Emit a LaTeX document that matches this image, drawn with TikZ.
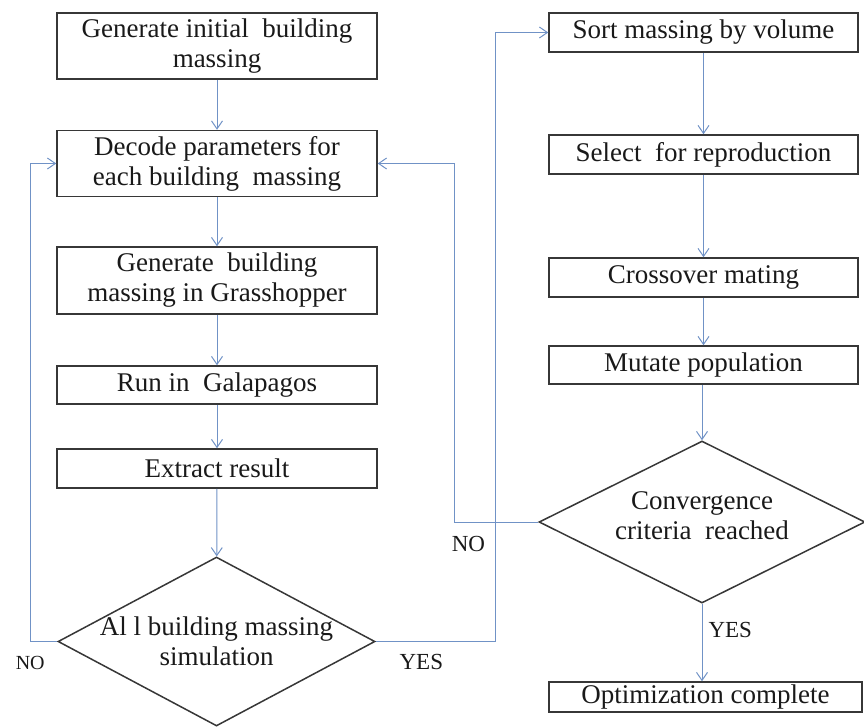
\documentclass[tikz,border=0pt]{standalone}
\usepackage{fontspec}
\setmainfont{Liberation Serif}
\usetikzlibrary{shapes.geometric,arrows.meta,positioning}
\definecolor{linkblue}{RGB}{112,146,198}
\definecolor{boxgray}{RGB}{55,55,55}
\begin{document}
\begin{tikzpicture}[
   x=1pt,y=-1pt,
   font=\fontsize{27}{30}\selectfont,
   proc/.style={draw=boxgray,line width=1.5pt,inner sep=0pt,align=center,text=black!90},
   test/.style={draw=boxgray,line width=1.5pt,diamond,inner sep=0pt},
   flow/.style={-{Straight Barb[length=8pt,width=11pt]},linkblue,line width=1pt},
   lab/.style={font=\fontsize{23}{26}\selectfont,inner sep=2pt,text=black!90}]
\useasboundingbox (0,0) rectangle (864,726);
\node[proc,minimum width=320pt,minimum height=66pt] (GI) at (217,46) {Generate initial\ \ building\\massing};
\node[proc,minimum width=320pt,minimum height=66pt] (DP) at (217,163.5) {Decode parameters for\\each building\ \ massing};
\node[proc,minimum width=320pt,minimum height=67pt] (GM) at (217,280.5) {Generate\ \ building\\massing in Grasshopper};
\node[proc,minimum width=320pt,minimum height=38pt] (RG) at (217,385) {Run in\ \ Galapagos};
\node[proc,minimum width=320pt,minimum height=39pt] (ER) at (217,468.5) {Extract result};
\node[test,minimum width=317pt,minimum height=169pt,
   label={[align=center,text=black!90]center:Al l building massing\\simulation}] (AB) at (216.5,641.5) {};
\node[proc,minimum width=309pt,minimum height=39pt] (SV) at (703.5,32.5) {Sort massing by volume};
\node[proc,minimum width=309pt,minimum height=39pt] (SR) at (703.5,154.5) {Select\ \ for reproduction};
\node[proc,minimum width=309pt,minimum height=39pt] (CM) at (703.5,277.5) {Crossover mating};
\node[proc,minimum width=309pt,minimum height=38pt] (MP) at (703.5,365) {Mutate population};
\node[test,minimum width=326pt,minimum height=162pt,
   label={[align=center,text=black!90,yshift=6pt]center:Convergence\\criteria\ \ reached}] (CC) at (702,522) {};
\node[proc,minimum width=313pt,minimum height=30pt] (OC) at (705.5,697) {Optimization complete};
\draw[flow] (GI) -- (DP);
\draw[flow] (DP) -- (GM);
\draw[flow] (GM) -- (RG);
\draw[flow] (RG) -- (ER);
\draw[flow] (ER) -- (AB);
\draw[flow] (AB.west) -- ++(-27,0) node[lab,below=12pt,font=\fontsize{20}{22}\selectfont] {NO} |- (DP.west);
\draw[flow] (AB.east) -- node[lab,pos=.38,below=10pt] {YES} ++(120,0) |- (SV.west);
\draw[flow] (SV) -- (SR);
\draw[flow] (SR) -- (CM);
\draw[flow] (CM) -- (MP);
\draw[flow] (MP.south -| CC.north) -- (CC.north);
\draw[flow] (CC.west) -- ++(-84,0) node[lab,below right=12pt and -5pt] {NO} |- (DP.east);
\draw[flow] (CC.south) -- node[lab,pos=.34,right=4pt] {YES} (CC.south |- OC.north);
\end{tikzpicture}
\end{document}
